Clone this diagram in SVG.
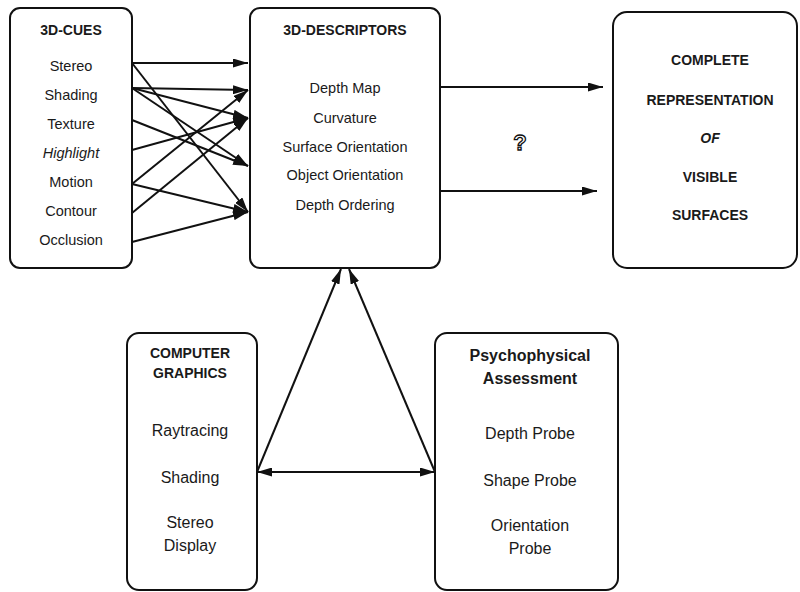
<svg xmlns="http://www.w3.org/2000/svg" width="800" height="592" viewBox="0 0 800 592">
<style>
.box{fill:none;stroke:#111;stroke-width:2}
.ln{stroke:#111;stroke-width:2;fill:none;marker-end:url(#ah)}
text{font-family:"Liberation Sans",Arial,sans-serif;fill:#1a1a1a;text-anchor:middle}
.t{font-weight:bold;font-size:14px}
.b{font-size:14.5px}
.g{font-size:16px}
.tb{font-weight:bold;font-size:16px}
</style>
<defs>
<marker id="ah" viewBox="0 0 15 9" refX="15" refY="4.5" markerWidth="15" markerHeight="9" markerUnits="userSpaceOnUse" orient="auto-start-reverse">
<path d="M0,0 L15,4.5 L0,9 z" fill="#111"/>
</marker>
</defs>
<rect width="800" height="592" fill="#fff"/>
<g id="cues">
<rect class="box" x="10" y="8" width="122" height="260" rx="10"/>
<text class="t" x="71" y="35">3D-CUES</text>
<text class="b" x="71" y="71">Stereo</text>
<text class="b" x="71" y="100">Shading</text>
<text class="b" x="71" y="129">Texture</text>
<text class="b" x="71" y="158" font-style="italic">Highlight</text>
<text class="b" x="71" y="187">Motion</text>
<text class="b" x="71" y="216">Contour</text>
<text class="b" x="71" y="245">Occlusion</text>
</g>
<g id="descriptors">
<rect class="box" x="250" y="8" width="190" height="260" rx="10"/>
<text class="t" x="345" y="35" font-size="13">3D-DESCRIPTORS</text>
<text class="b" x="345" y="93">Depth Map</text>
<text class="b" x="345" y="123">Curvature</text>
<text class="b" x="345" y="152">Surface Orientation</text>
<text class="b" x="345" y="180">Object Orientation</text>
<text class="b" x="345" y="210">Depth Ordering</text>
</g>
<g id="complete">
<rect class="box" x="613" y="12" width="184" height="256" rx="14"/>
<text class="t" x="710" y="65">COMPLETE</text>
<text class="t" x="710" y="105">REPRESENTATION</text>
<text class="t" x="710" y="143" font-style="italic">OF</text>
<text class="t" x="710" y="182">VISIBLE</text>
<text class="t" x="710" y="220">SURFACES</text>
</g>
<g id="graphics">
<rect class="box" x="127" y="333" width="130" height="257" rx="12"/>
<text class="t" x="190" y="358">COMPUTER</text>
<text class="t" x="190" y="378">GRAPHICS</text>
<text class="g" x="190" y="436">Raytracing</text>
<text class="g" x="190" y="483">Shading</text>
<text class="g" x="190" y="528">Stereo</text>
<text class="g" x="190" y="551">Display</text>
</g>
<g id="psycho">
<rect class="box" x="435" y="333" width="183" height="257" rx="12"/>
<text class="tb" x="530" y="361">Psychophysical</text>
<text class="tb" x="530" y="384">Assessment</text>
<text class="g" x="530" y="439">Depth Probe</text>
<text class="g" x="530" y="486">Shape Probe</text>
<text class="g" x="530" y="531">Orientation</text>
<text class="g" x="530" y="554">Probe</text>
</g>
<g id="question">
<text x="520" y="150" font-size="22" font-weight="bold" style="fill:#fff;stroke:#111;stroke-width:1.3">?</text>
</g>
<g id="connectors">
<line class="ln" x1="132" y1="63" x2="248" y2="63"/>
<line class="ln" x1="132" y1="63" x2="248" y2="212"/>
<line class="ln" x1="132" y1="88" x2="248" y2="90"/>
<line class="ln" x1="132" y1="88" x2="248" y2="118"/>
<line class="ln" x1="132" y1="88" x2="248" y2="166"/>
<line class="ln" x1="132" y1="120" x2="248" y2="166"/>
<line class="ln" x1="132" y1="150" x2="248" y2="118"/>
<line class="ln" x1="132" y1="184" x2="248" y2="90"/>
<line class="ln" x1="132" y1="184" x2="248" y2="212"/>
<line class="ln" x1="132" y1="213" x2="248" y2="118"/>
<line class="ln" x1="132" y1="242" x2="248" y2="212"/>
<line class="ln" x1="440" y1="87" x2="603" y2="87"/>
<line class="ln" x1="440" y1="191" x2="597" y2="191"/>
<line class="ln" x1="257" y1="472" x2="341" y2="269"/>
<line class="ln" x1="435" y1="472" x2="349" y2="269"/>
<line class="ln" x1="257" y1="472" x2="435" y2="472" style="marker-start:url(#ah)"/>
</g>
</svg>
